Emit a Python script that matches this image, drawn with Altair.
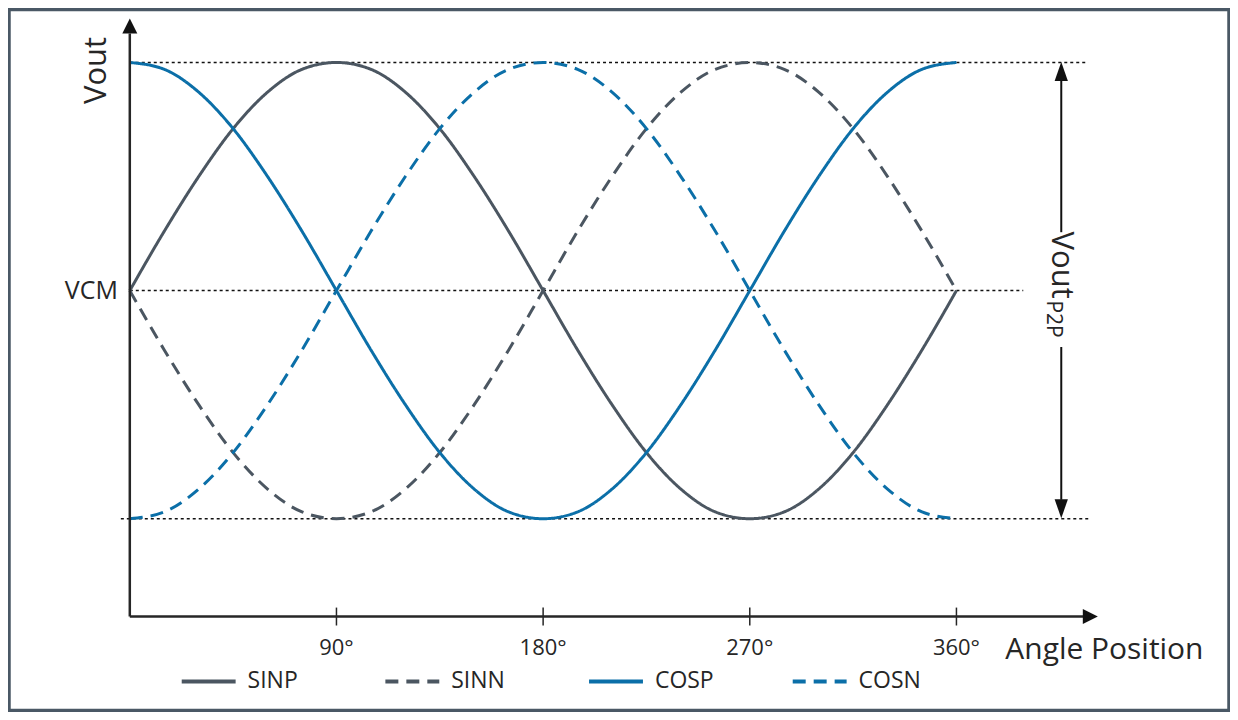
import altair as alt
import pandas as pd

# ---- data ----
DEG = [0, 15, 30, 45, 60, 75, 90, 105, 120, 135, 150, 165, 180,
       195, 210, 225, 240, 255, 270, 285, 300, 315, 330, 345, 360]
SINP = [0.0, 0.26, 0.5, 0.71, 0.87, 0.97, 1.0, 0.97, 0.87, 0.71, 0.5, 0.26, 0.0,
        -0.26, -0.5, -0.71, -0.87, -0.97, -1.0, -0.97, -0.87, -0.71, -0.5, -0.26, 0.0]
SINN = [0.0, -0.26, -0.5, -0.71, -0.87, -0.97, -1.0, -0.97, -0.87, -0.71, -0.5, -0.26, 0.0,
        0.26, 0.5, 0.71, 0.87, 0.97, 1.0, 0.97, 0.87, 0.71, 0.5, 0.26, 0.0]
COSP = [1.0, 0.97, 0.87, 0.71, 0.5, 0.26, 0.0, -0.26, -0.5, -0.71, -0.87, -0.97, -1.0,
        -0.97, -0.87, -0.71, -0.5, -0.26, 0.0, 0.26, 0.5, 0.71, 0.87, 0.97, 1.0]
COSN = [-1.0, -0.97, -0.87, -0.71, -0.5, -0.26, 0.0, 0.26, 0.5, 0.71, 0.87, 0.97, 1.0,
        0.97, 0.87, 0.71, 0.5, 0.26, 0.0, -0.26, -0.5, -0.71, -0.87, -0.97, -1.0]
SERIES = ["SINP", "SINN", "COSP", "COSN"]
TICKS = [90, 180, 270, 360]
TICK_LABELS = ["90°", "180°", "270°", "360°"]

# ---- styles ----
GRAY = "#4b5661"
BLUE = "#0b6fa8"
COLORS = [GRAY, GRAY, BLUE, BLUE]
DASHES = [[1, 0], [13, 8], [1, 0], [13, 8]]
INK = "#262626"
FONT = "Open Sans"

xs = alt.Scale(domain=[-52.61, 478.70], nice=False, zero=False)
ys = alt.Scale(domain=[-1.8403, 1.2319], nice=False, zero=False)

rows = []
for name, vals in zip(SERIES, [SINP, SINN, COSP, COSN]):
    for d, v in zip(DEG, vals):
        rows.append({"deg": d, "v": v, "series": name})
df = pd.DataFrame(rows)


def one():
    return alt.Chart(alt.Data(values=[{"k": 1}]))


def X(v):
    return alt.XDatum(v, type="quantitative", scale=xs, axis=None)


def Y(v):
    return alt.YDatum(v, type="quantitative", scale=ys, axis=None)


leg = alt.Legend(
    title=None, orient="none", legendX=171, legendY=644, direction="horizontal",
    columns=4, gridAlign="all", columnPadding=67, symbolType="stroke",
    symbolSize=2916, symbolStrokeWidth=4, labelFont=FONT, labelFontSize=23,
    labelColor=INK, labelOffset=10, padding=0,
)

lines = alt.Chart(df).mark_line(strokeWidth=3, interpolate="monotone").encode(
    x=alt.X("deg:Q", scale=xs, axis=None),
    y=alt.Y("v:Q", scale=ys, axis=None),
    color=alt.Color("series:N", scale=alt.Scale(domain=SERIES, range=COLORS), legend=leg),
    strokeDash=alt.StrokeDash("series:N", scale=alt.Scale(domain=SERIES, range=DASHES), legend=leg),
)


def rule(x1, y1, x2, y2, color=INK, width=2.5, dash=None):
    kw = dict(color=color, strokeWidth=width)
    if dash:
        kw["strokeDash"] = dash
    return one().mark_rule(**kw).encode(
        x=X(x1), y=Y(y1), x2=alt.X2Datum(x2), y2=alt.Y2Datum(y2))


def arrow(x, y, path, size):
    return one().mark_point(shape=path, size=size, filled=True, color="#111",
                            opacity=1, strokeWidth=0).encode(x=X(x), y=Y(y))


def label(x, y, text, size, align="center", angle=0):
    kw = dict(text=text, font=FONT, fontSize=size, color=INK, align=align, baseline="middle")
    if angle:
        kw["angle"] = angle
    return one().mark_text(**kw).encode(x=X(x), y=Y(y))


# guide lines (dotted)
dot = [3, 3]
g_top = rule(0, 1.0, 417.4, 1.0, color="#111", width=1.5, dash=dot)
g_mid = rule(0, 0.0, 389.1, 0.0, color="#111", width=1.5, dash=dot)
g_bot = rule(-3.9, -1.0, 417.4, -1.0, color="#111", width=1.5, dash=dot)

# axes
y_axis = rule(0, -1.429, 0, 1.127)
x_axis = rule(0, -1.429, 415.2, -1.429)
y_head = arrow(0, 1.1597, "M0,-1L1,1L-1,1Z", 225)
x_head = arrow(418.3, -1.429, "M1,0L-1,-1L-1,1Z", 225)

ticks = alt.Chart(pd.DataFrame({"t": TICKS, "lab": TICK_LABELS}))
tick_marks = ticks.mark_rule(color=INK, strokeWidth=1.5).encode(
    x=alt.X("t:Q", scale=xs, axis=None), y=Y(-1.3895), y2=alt.Y2Datum(-1.468))
tick_text = ticks.mark_text(font=FONT, fontSize=22, color=INK, baseline="middle").encode(
    x=alt.X("t:Q", scale=xs, axis=None), y=Y(-1.5646), text="lab:N")

# Vout p2p double arrow
p2p_top = rule(405.65, 0.9212, 405.65, 0.256, color="#111", width=2)
p2p_bot = rule(405.65, -0.2473, 405.65, -0.9168, color="#111", width=2)
p2p_h1 = arrow(405.65, 0.9606, "M0,-1L0.7,1L-0.7,1Z", 361)
p2p_h2 = arrow(405.65, -0.9562, "M0,1L0.7,-1L-0.7,-1Z", 361)

texts = [
    label(-14.35, 0.965, "Vout", 31, angle=270),
    label(-5.22, 0.0, "VCM", 25, align="right"),
    label(381.3, -1.5733, "Angle Position", 30, align="left"),
    label(405.65, 0.1116, "Vout", 31, angle=90),
    label(402.0, -0.1247, "P2P", 21, angle=90),
]

chart = alt.layer(
    g_top, g_mid, g_bot, lines, y_axis, x_axis, y_head, x_head,
    tick_marks, tick_text, p2p_top, p2p_bot, p2p_h1, p2p_h2, *texts
).properties(
    width=1222, height=702,
    autosize=alt.AutoSizeParams(type="none"),
    padding={"left": 1, "top": 1, "right": 1, "bottom": 1},
    background="white",
).configure_view(stroke="#4a5865", strokeWidth=3.5)

chart.save("out.html", embed_options={"renderer": "svg", "actions": False})
